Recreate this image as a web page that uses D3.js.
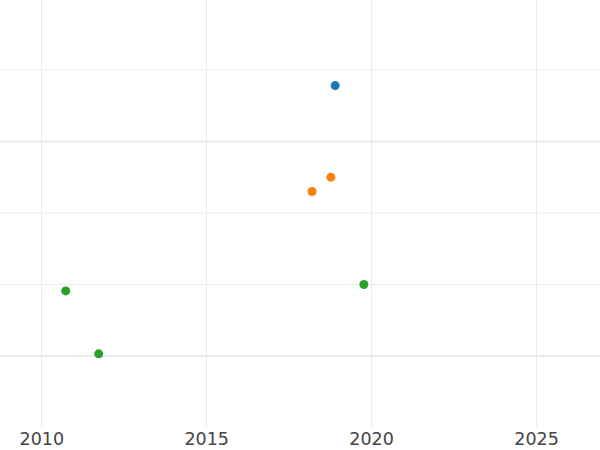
<!DOCTYPE html>
<html>
<head>
<meta charset="utf-8">
<script src="https://cdn.jsdelivr.net/npm/d3@7"></script>
<style>
  body { margin: 0; background: #fff; }
  svg { display: block; }
</style>
</head>
<body>
<div id="chart"></div>
<script>
// data
var series = ["a", "b", "c"];
var colors = ["#1f77b4", "#ff7f0e", "#2ca02c"];
var xYears = [
    [2018.91],
    [2018.78, 2018.21],
    [2010.74, 2011.74, 2019.78]
];
var yValues = [
    [3.78],
    [2.50, 2.30],
    [0.91, 0.03, 1.00]
];
var xTicks = [2010, 2015, 2020, 2025];
var yTicks = [0, 1, 2, 3, 4];
var yThick = [0, 3];

var width = 600, height = 450;
var plotBottom = 427;

var svg = d3.select("#chart")
    .append("svg")
    .attr("width", width)
    .attr("height", height);

var x = d3.scaleLinear()
    .domain([2008.748, 2026.94])
    .range([0, width]);

var y = d3.scaleLinear()
    .domain([-1.0, 4.97])
    .range([plotBottom + 0.5, 0.5]);

// vertical grid
svg.append("g")
    .selectAll("line")
    .data(xTicks)
    .enter()
    .append("line")
    .attr("x1", function(d) { return Math.round(x(d)) + 0.5; })
    .attr("x2", function(d) { return Math.round(x(d)) + 0.5; })
    .attr("y1", 0)
    .attr("y2", plotBottom)
    .attr("stroke", "#ebebeb")
    .attr("stroke-width", 1);

// horizontal grid
svg.append("g")
    .selectAll("line")
    .data(yTicks)
    .enter()
    .append("line")
    .attr("x1", 0)
    .attr("x2", width)
    .attr("y1", function(d) { return y(d); })
    .attr("y2", function(d) { return y(d); })
    .attr("stroke", "#ebebeb")
    .attr("stroke-width", function(d) {
        return yThick.indexOf(d) >= 0 ? 2 : 1;
    });

// x axis labels
var xAxis = d3.axisBottom(x)
    .tickValues(xTicks)
    .tickFormat(d3.format("d"))
    .tickSize(0)
    .tickPadding(6);

var gx = svg.append("g")
    .attr("transform", "translate(0," + plotBottom + ")")
    .call(xAxis);
gx.select(".domain").remove();
gx.selectAll("text")
    .attr("font-family", "DejaVu Sans, sans-serif")
    .attr("font-size", 17.5)
    .attr("fill", "#444");

// points
series.forEach(function(s, i) {
    var pts = xYears[i].map(function(v, j) {
        return {x: v, y: yValues[i][j]};
    });
    svg.append("g")
        .selectAll("circle")
        .data(pts)
        .enter()
        .append("circle")
        .attr("cx", function(d) { return x(d.x); })
        .attr("cy", function(d) { return y(d.y); })
        .attr("r", 4.5)
        .attr("fill", colors[i]);
});
</script>
</body>
</html>
